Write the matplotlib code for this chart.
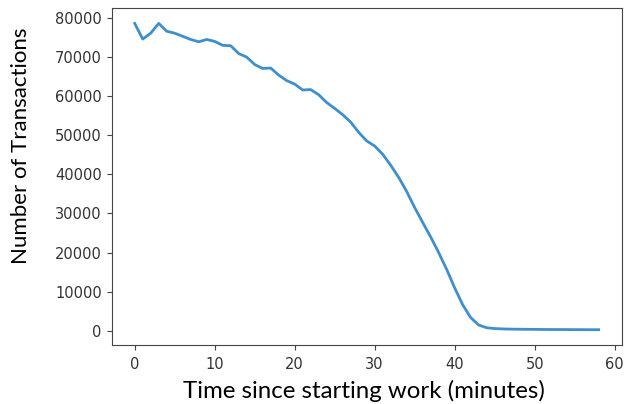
import matplotlib.pyplot as plt
import numpy as np

# minutes since the start of work, and transactions recorded in that minute
minutes = list(range(0, 59))
transactions = [
    78500, 74500, 76000, 78500, 76500, 76000, 75200, 74400, 73800, 74400,
    73900, 72900, 72800, 70800, 69900, 68000, 67000, 67100, 65300, 63900,
    63000, 61500, 61600, 60300, 58300, 56800, 55200, 53300, 50700, 48500,
    47200, 45100, 42300, 39200, 35600, 31500, 27700, 24000, 20000, 15700,
    11000, 6700, 3400, 1500, 800, 600, 500, 450, 420, 400,
    380, 360, 350, 340, 330, 320, 310, 300, 300,
]

fig = plt.figure(figsize=(6.3, 4.04), dpi=100)
ax = fig.add_axes([0.177, 0.146, 0.810, 0.834])

ax.plot(minutes, transactions, color='#3f8fcc', linewidth=2)

ax.set_xticks([0, 10, 20, 30, 40, 50, 60])
ax.set_yticks(np.arange(0, 80001, 10000))
ax.tick_params(labelsize=10.5, labelcolor='#333333', color='#444444')
ax.tick_params(axis='x', pad=5)
for s in ax.spines.values():
    s.set_color('#444444')

# axis titles placed on the figure, as they were added outside the plot
fig.text(0.578, 1 - 398 / 404, 'Time since starting work (minutes)',
         fontsize=17.3, family='Lato', ha='center', va='baseline')
fig.text(21 / 630, 1 - 146 / 404, 'Number of Transactions',
         fontsize=16, family='Lato', ha='center', va='center',
         rotation=90)

fig.savefig('out.png', dpi=100)
